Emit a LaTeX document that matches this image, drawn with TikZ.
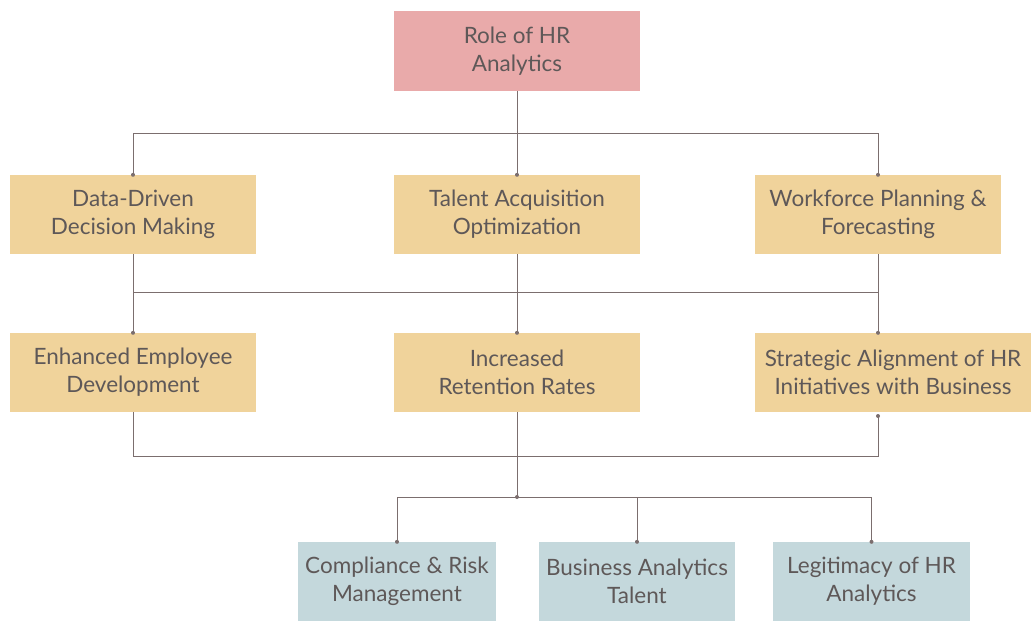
\documentclass[tikz,border=0pt]{standalone}
\usepackage{fontspec}
\setmainfont{Lato}
\usepackage{tikz}
\usetikzlibrary{arrows,shapes,positioning}

\definecolor{rootpink}{HTML}{E9AAAA}
\definecolor{midtan}{HTML}{F0D39B}
\definecolor{lowblue}{HTML}{C4D8DC}
\definecolor{linegray}{HTML}{7B6E6E}
\definecolor{txtgray}{HTML}{5E5858}

\begin{document}
\begin{tikzpicture}[x=1pt,y=-1pt]
                    \tikzstyle{every node}+=[inner sep=0pt]
                    \tikzstyle{box}=[rectangle, align=center, text=txtgray, font=\fontsize{22.5}{28}\selectfont, minimum height=79]
                    \tikzstyle{link}=[draw=linegray, line width=1pt]
                    \tikzstyle{dot}=[fill=linegray]
                    \useasboundingbox (0,0) rectangle (1032,621);
                    % top
                    \node [box, fill=rootpink, minimum width=246, minimum height=80] (role) at (517,51) {Role of HR\\Analytics};
                    % first row
                    \node [box, fill=midtan, minimum width=246] (ddm) at (133,214.5) {Data-Driven\\Decision Making};
                    \node [box, fill=midtan, minimum width=246] (tao) at (517,214.5) {Talent Acquisition\\Optimization};
                    \node [box, fill=midtan, minimum width=246] (wpf) at (878,214.5) {Workforce Planning \&\\Forecasting};
                    % second row
                    \node [box, fill=midtan, minimum width=246] (eed) at (133,372.5) {Enhanced Employee\\Development};
                    \node [box, fill=midtan, minimum width=246] (irr) at (517,372.5) {Increased\\Retention Rates};
                    \node [box, fill=midtan, minimum width=276] (sah) at (893,372.5) {Strategic Alignment of HR\\Initiatives with Business};
                    % bottom row
                    \node [box, fill=lowblue, minimum width=198] (crm) at (397,581.5) {Compliance \& Risk\\Management};
                    \node [box, fill=lowblue, minimum width=196] (bat) at (637,581.5) {Business Analytics\\Talent};
                    \node [box, fill=lowblue, minimum width=197] (lha) at (871.5,581.5) {Legitimacy of HR\\Analytics};
                    % bus lines
                    \coordinate (busA) at (517,133);
                    \coordinate (busB) at (517,292);
                    \coordinate (busC) at (517,456);
                    \coordinate (busD) at (517,497);
                    \coordinate (sahin) at (878,416);
                    % role to first row
                    \draw [link] (role.south) -- (tao.north);
                    \draw [link] (ddm.north) -- (ddm.north |- busA) -- (wpf.north |- busA) -- (wpf.north);
                    \fill [dot] (ddm.north) circle (2);
                    \fill [dot] (tao.north) circle (2);
                    \fill [dot] (wpf.north) circle (2);
                    % first row to second row
                    \draw [link] (ddm.south) -- (eed.north);
                    \draw [link] (tao.south) -- (irr.north);
                    \draw [link] (wpf.south) -- (wpf.south |- sah.north);
                    \draw [link] (ddm.south |- busB) -- (wpf.south |- busB);
                    \fill [dot] (eed.north) circle (2);
                    \fill [dot] (irr.north) circle (2);
                    \fill [dot] (wpf.south |- sah.north) circle (2);
                    % second row to bottom row
                    \draw [link] (eed.south) -- (eed.south |- busC) -- (sahin |- busC) -- (sahin);
                    \fill [dot] (sahin) circle (2);
                    \draw [link] (irr.south) -- (busD);
                    \fill [dot] (busD) circle (2);
                    \draw [link] (crm.north) -- (crm.north |- busD) -- (lha.north |- busD) -- (lha.north);
                    \draw [link] (bat.north |- busD) -- (bat.north);
                    \fill [dot] (crm.north) circle (2);
                    \fill [dot] (bat.north) circle (2);
                    \fill [dot] (lha.north) circle (2);
\end{tikzpicture}
\end{document}
